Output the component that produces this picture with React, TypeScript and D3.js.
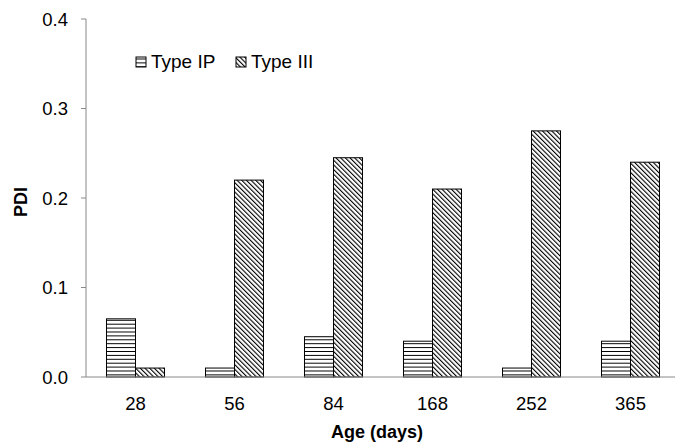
import React from "react";
import * as d3 from "d3";

const categories = ["28", "56", "84", "168", "252", "365"];
const typeIP = [0.065, 0.01, 0.045, 0.04, 0.01, 0.04];
const typeIII = [0.01, 0.22, 0.245, 0.21, 0.275, 0.24];
const yTicks = [0, 0.1, 0.2, 0.3, 0.4];
const seriesNames = ["Type IP", "Type III"];

const W = 675, H = 446;
const left = 86, right = 680, top = 19, bottom = 377;

export default function App() {
  const x = d3.scaleBand<string>().domain(categories).range([left, right]).paddingInner(0).paddingOuter(0);
  const y = d3.scaleLinear().domain([0, 0.4]).range([bottom, top]);
  const barW = x.bandwidth() * 0.293;
  const series = [typeIP, typeIII];
  const fills = ["url(#hpat)", "url(#dpat)"];
  const font = "'Liberation Sans', Arial, sans-serif";
  return (
    <svg width={W} height={H} style={{ position: "absolute", left: 0, top: 0, background: "#fff" }} fontFamily={font}>
      <defs>
        <pattern id="hpat" patternUnits="userSpaceOnUse" width={6} height={3.9}>
          <rect width={6} height={3.9} fill="#fff" />
          <line x1={0} x2={6} y1={0.5} y2={0.5} stroke="#000" strokeWidth={1} />
        </pattern>
        <pattern id="dpat" patternUnits="userSpaceOnUse" width={3.3} height={3.3} patternTransform="rotate(-45)">
          <rect width={3.3} height={3.3} fill="#fff" />
          <line x1={0} x2={0} y1={0} y2={3.3} stroke="#000" strokeWidth={2.2} />
        </pattern>
      </defs>
      {/* y axis */}
      <line x1={left} x2={left} y1={top} y2={bottom} stroke="#888" strokeWidth={1} />
      {yTicks.map((t) => (
        <g key={t}>
          <line x1={left - 5} x2={left} y1={y(t)} y2={y(t)} stroke="#888" />
          <text x={68} y={y(t)} dy="0.36em" textAnchor="end" fontSize={18.5} fill="#000">
            {d3.format(".1f")(t)}
          </text>
        </g>
      ))}
      {/* bars */}
      {categories.map((c, i) => {
        const cx = (x(c) as number) + x.bandwidth() / 2;
        return (
          <g key={c}>
            {series.map((s, j) => (
              <rect
                key={j}
                x={cx - barW + j * barW}
                y={y(s[i])}
                width={barW}
                height={bottom - y(s[i])}
                fill={fills[j]}
                stroke="#000"
                strokeWidth={1}
              />
            ))}
            <text x={cx} y={410} textAnchor="middle" fontSize={18.5} fill="#000">{c}</text>
          </g>
        );
      })}
      {/* x axis */}
      <line x1={left} x2={right} y1={bottom} y2={bottom} stroke="#888" strokeWidth={1} />
      <text x={377} y={438} textAnchor="middle" fontSize={18} fontWeight="bold" fill="#000">Age (days)</text>
      <text transform={`translate(27, 202) rotate(-90)`} textAnchor="middle" fontSize={18} fontWeight="bold" fill="#000">PDI</text>
      {/* legend */}
      {seriesNames.map((n, j) => {
        const lx = j === 0 ? 136 : 236;
        return (
          <g key={n}>
            <rect x={lx} y={57} width={10} height={10} fill={fills[j]} stroke="#000" strokeWidth={1} />
            <text x={lx + 15} y={68} fontSize={19} fill="#000">{n}</text>
          </g>
        );
      })}
    </svg>
  );
}
